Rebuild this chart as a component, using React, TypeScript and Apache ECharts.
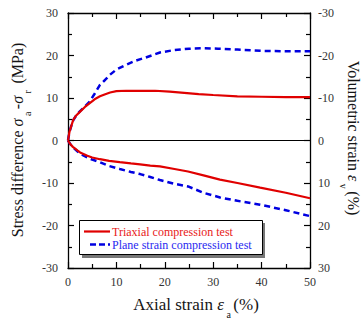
import React, { useEffect, useRef } from "react";
import * as echarts from "echarts";

const SERIES_NAMES = ["Triaxial compression test", "Plane strain compression test"];

const triStressX = [0, 0.3, 0.7, 1.1, 1.7, 2.5, 3.5, 4.5, 5.5, 6.6, 7.7, 8.7, 10, 12, 15, 18, 21, 24, 27, 30, 35, 40, 45, 50];
const triStressY = [0, 2.0, 3.5, 4.9, 5.9, 6.8, 7.9, 8.8, 9.7, 10.4, 10.9, 11.3, 11.6, 11.7, 11.7, 11.7, 11.5, 11.2, 10.9, 10.7, 10.4, 10.3, 10.2, 10.2];

const psStressX = [0, 0.3, 0.7, 1.1, 1.7, 2.5, 3.5, 4.5, 5.5, 6.6, 7.7, 8.7, 10, 12, 14, 16, 19, 22, 25, 28, 31, 35, 40, 45, 50];
const psStressY = [0, 2.0, 3.5, 4.8, 5.9, 6.9, 8.0, 9.2, 11.0, 13.1, 14.3, 15.5, 16.7, 17.8, 18.8, 19.5, 20.7, 21.3, 21.6, 21.7, 21.6, 21.4, 21.1, 21.0, 21.0];

const volX = [0, 0.5, 1, 2, 2.5, 4, 5, 6.6, 8.5, 10.7, 13, 14.9, 17, 19, 22, 24.8, 28, 31.4, 35, 39.7, 45, 50];
const triVol = [0, 0.9, 1.5, 2.4, 2.8, 3.6, 4.0, 4.4, 4.8, 5.1, 5.4, 5.6, 5.9, 6.1, 6.7, 7.3, 8.2, 9.2, 10.0, 11.1, 12.3, 13.6];
const psVol = [0, 0.9, 1.6, 2.6, 3.1, 4.0, 4.5, 5.1, 6.0, 6.7, 7.4, 7.9, 8.6, 9.3, 10.2, 10.8, 12.3, 13.4, 14.2, 15.1, 16.4, 17.8];

const RED = "#e00000";
const BLUE = "#0000e0";
const FONT = "Liberation Serif";

const pairs = (xs: number[], ys: number[]) => xs.map((x, i) => [x, ys[i]]);

type Seg = { t: string; font: string; dy: number };

function measure(text: string, font: string): number {
  const c = document.createElement("canvas");
  const ctx = c.getContext("2d");
  if (!ctx) return text.length * 7;
  ctx.font = font;
  return ctx.measureText(text).width;
}

function titleGroup(segs: Seg[], x: number, y: number, rotation: number) {
  const widths = segs.map((s) => measure(s.t, s.font));
  const total = widths.reduce((a, b) => a + b, 0);
  let cx = -total / 2;
  const children = segs.map((s, i) => {
    const el = {
      type: "text", x: cx, y: s.dy,
      style: { text: s.t, font: s.font, fill: "#151515", align: "left", verticalAlign: "middle" },
    };
    cx += widths[i];
    return el;
  });
  return { type: "group", x, y, rotation, z: 20, children };
}

export default function App() {
  const ref = useRef<HTMLDivElement>(null);
  useEffect(() => {
    if (!ref.current) return;
    const chart = echarts.init(ref.current, null, { renderer: "svg" });
    const tickCommon = {
      axisLine: { show: true, onZero: false, lineStyle: { color: "#000", width: 1.3 } },
      axisTick: { show: true, inside: true, length: 6, lineStyle: { color: "#000", width: 1.2 } },
      minorTick: { show: true, splitNumber: 2, length: 4, lineStyle: { color: "#000", width: 1.2 } },
      splitLine: { show: false },
    };
    const labelStyle = { color: "#333", fontFamily: FONT, fontSize: 12 };
    const lineBase = { type: "line", symbol: "none", smooth: false, animation: false };
    const N = "16px Liberation Serif";
    const I = "italic 16px Liberation Serif";
    const S = "10px Liberation Serif";
    const NX = "17px Liberation Serif";
    const IX = "italic 17px Liberation Serif";
    const option: any = {
      animation: false,
      textStyle: { fontFamily: FONT },
      grid: { left: 68, right: 53, top: 13, bottom: 52, containLabel: false, outerBoundsMode: "none" },
      xAxis: [
        { type: "value", min: 0, max: 50, interval: 10, position: "bottom", ...tickCommon,
          axisLabel: { ...labelStyle, margin: 8 } },
        { type: "value", min: 0, max: 50, interval: 10, position: "top", ...tickCommon,
          axisLabel: { show: false } },
      ],
      yAxis: [
        { type: "value", min: -30, max: 30, interval: 10, position: "left", ...tickCommon,
          axisLabel: { ...labelStyle, margin: 10 } },
        { type: "value", min: -30, max: 30, interval: 10, position: "right", inverse: true, ...tickCommon,
          axisLabel: { ...labelStyle, margin: 8 } },
      ],
      graphic: [
        { type: "rect", shape: { x: 82, y: 223, width: 183, height: 35 }, style: { fill: "#777" }, z: 10 },
        { type: "rect", shape: { x: 79.5, y: 220.5, width: 183, height: 34 }, style: { fill: "#fff", stroke: "#000", lineWidth: 1 }, z: 11 },
        { type: "line", shape: { x1: 84, y1: 231.5, x2: 110, y2: 231.5 }, style: { stroke: RED, lineWidth: 2.2 }, z: 12 },
        { type: "line", shape: { x1: 90, y1: 244.5, x2: 110, y2: 244.5 }, style: { stroke: BLUE, lineWidth: 2.5, lineDash: [6, 3] }, z: 12 },
        { type: "text", x: 112, y: 231.5, z: 12,
          style: { text: SERIES_NAMES[0], font: "12px Liberation Serif", fill: "#e82020", verticalAlign: "middle", align: "left" } },
        { type: "text", x: 112, y: 244.5, z: 12,
          style: { text: SERIES_NAMES[1], font: "12px Liberation Serif", fill: "#2a2af0", verticalAlign: "middle", align: "left" } },
        titleGroup([
          { t: "Stress difference ", font: N, dy: 0 },
          { t: "σ", font: I, dy: 0 },
          { t: " a ", font: S, dy: 10 },
          { t: "-", font: N, dy: 0 },
          { t: "σ", font: I, dy: 0 },
          { t: " r ", font: S, dy: 10 },
          { t: " (MPa)", font: N, dy: 0 },
        ], 17, 140, Math.PI / 2),
        titleGroup([
          { t: "Volumetric strain ", font: N, dy: 0 },
          { t: "ε", font: I, dy: 0 },
          { t: " v ", font: S, dy: 10 },
          { t: "(%)", font: N, dy: 0 },
        ], 353, 138, -Math.PI / 2),
        titleGroup([
          { t: "Axial strain ", font: NX, dy: 0 },
          { t: "ε", font: IX, dy: 0 },
          { t: " a ", font: S, dy: 10 },
          { t: "(%)", font: NX, dy: 0 },
        ], 196, 304, 0),
      ],
      series: [
        {
          ...lineBase, name: SERIES_NAMES[0], xAxisIndex: 0, yAxisIndex: 0, z: 5,
          data: pairs(triStressX, triStressY), color: RED,
          lineStyle: { color: RED, width: 2.2, type: "solid" },
          markLine: {
            silent: true, symbol: "none", label: { show: false },
            lineStyle: { color: "#000", width: 1.2, type: "solid" },
            data: [{ yAxis: 0 }],
          },
        },
        {
          ...lineBase, name: SERIES_NAMES[1], xAxisIndex: 0, yAxisIndex: 0, z: 4,
          data: pairs(psStressX, psStressY), color: BLUE,
          lineStyle: { color: BLUE, width: 2.5, type: [6, 4] },
        },
        {
          ...lineBase, name: SERIES_NAMES[0], xAxisIndex: 0, yAxisIndex: 1, z: 5,
          data: pairs(volX, triVol), color: RED,
          lineStyle: { color: RED, width: 2.2, type: "solid" },
        },
        {
          ...lineBase, name: SERIES_NAMES[1], xAxisIndex: 0, yAxisIndex: 1, z: 4,
          data: pairs(volX, psVol), color: BLUE,
          lineStyle: { color: BLUE, width: 2.5, type: [6, 4] },
        },
      ],
    };
    chart.setOption(option);
    return () => chart.dispose();
  }, []);
  return <div ref={ref} style={{ width: 363, height: 320, position: "absolute", left: 0, top: 0, background: "#fff" }} />;
}
